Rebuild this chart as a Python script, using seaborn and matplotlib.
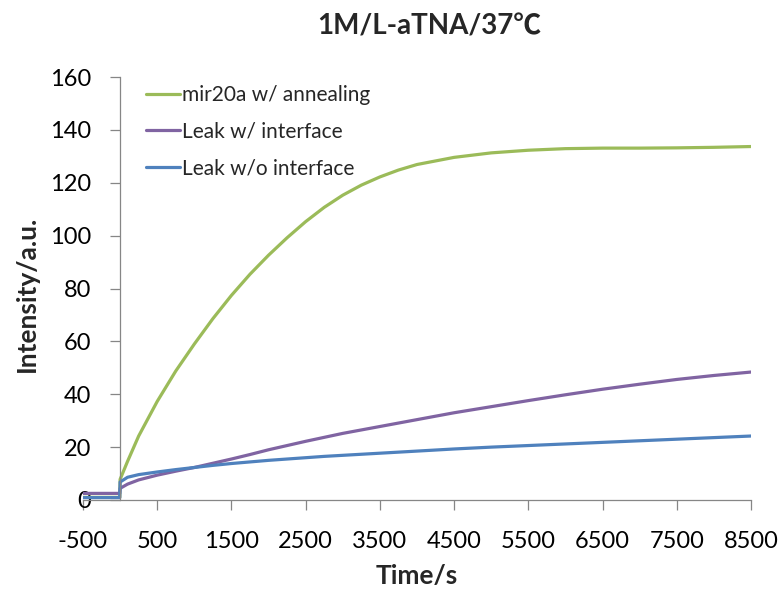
import matplotlib
matplotlib.use("Agg")
import matplotlib.pyplot as plt
import matplotlib.transforms as mtransforms
import seaborn as sns
import pandas as pd

# Fluorescence time course (seconds, arbitrary intensity units)
time_s = [-500, -5, 0, 100, 250, 500, 750, 1000, 1250, 1500, 1750, 2000,
          2250, 2500, 2750, 3000, 3250, 3500, 3750, 4000, 4500, 5000,
          5500, 6000, 6500, 7000, 7500, 8000, 8500]

mir20a_annealing = [1.0, 1.0, 7.8, 14.6, 24.2, 37.3, 48.8, 59.0, 68.6, 77.4,
                    85.4, 92.6, 99.2, 105.3, 110.7, 115.3, 119.1, 122.2,
                    124.8, 126.9, 129.6, 131.3, 132.3, 132.9, 133.1, 133.1,
                    133.2, 133.4, 133.7]

leak_with_interface = [2.5, 2.5, 4.4, 6.0, 7.6, 9.4, 10.9, 12.3, 13.9, 15.5,
                       17.2, 19.0, 20.6, 22.2, 23.7, 25.2, 26.5, 27.8, 29.1,
                       30.4, 33.0, 35.3, 37.6, 39.8, 41.9, 43.8, 45.6, 47.1,
                       48.4]

leak_without_interface = [0.9, 0.9, 6.8, 8.6, 9.6, 10.6, 11.5, 12.3, 13.1,
                          13.8, 14.4, 15.0, 15.5, 16.0, 16.5, 16.9, 17.3,
                          17.7, 18.1, 18.5, 19.3, 20.0, 20.6, 21.2, 21.8,
                          22.4, 23.0, 23.6, 24.2]

series_names = ["mir20a w/ annealing", "Leak w/ interface", "Leak w/o interface"]
series_colors = ["#9BBB59", "#8064A2", "#4F81BD"]
series_values = [mir20a_annealing, leak_with_interface, leak_without_interface]

x_ticks = [-500, 500, 1500, 2500, 3500, 4500, 5500, 6500, 7500, 8500]
y_ticks = [0, 20, 40, 60, 80, 100, 120, 140, 160]

sns.set_theme(style="white")
fonts = ["Lato", "Noto Sans CJK SC", "DejaVu Sans"]
plt.rcParams["font.family"] = fonts

fig = plt.figure(figsize=(7.83, 5.92), dpi=100)
ax = fig.add_axes([83 / 783, 1 - 500 / 592, (751 - 83) / 783, (500 - 77) / 592])

for name, color, values in zip(series_names, series_colors, series_values):
    df = pd.DataFrame({"time": time_s, "intensity": values})
    sns.lineplot(data=df, x="time", y="intensity", ax=ax, color=color,
                 linewidth=2.3, label=name, estimator=None, sort=False)

ax.set_xlim(-500, 8500)
ax.set_ylim(0, 160)
ax.set_xticks(x_ticks)
ax.set_yticks(y_ticks)
ax.set_xticklabels([str(t) for t in x_ticks])
ax.set_yticklabels([str(t) for t in y_ticks])

axis_grey = "#868686"
for side in ["top", "right"]:
    ax.spines[side].set_visible(False)
ax.spines["left"].set_position(("data", 0))
ax.spines["left"].set_color(axis_grey)
ax.spines["bottom"].set_color(axis_grey)
ax.spines["left"].set_linewidth(0.9)
ax.spines["bottom"].set_linewidth(0.9)

ax.tick_params(axis="both", direction="out", length=7, width=0.9,
               color=axis_grey, labelsize=17, labelcolor="black")
ax.tick_params(axis="x", pad=15, bottom=True)
ax.tick_params(axis="y", pad=8, left=True)
# y tick labels sit near the left edge of the plotting area, not by the x=0 spine
label_shift = mtransforms.ScaledTranslation(8 / 100, 0, fig.dpi_scale_trans)
for lbl in ax.yaxis.get_ticklabels():
    lbl.set_transform(ax.get_yaxis_transform() + label_shift)

ax.set_xlabel("")
ax.set_ylabel("")
fig.text(417 / 783, 1 - 576 / 592, "Time/s", ha="center", va="center",
         fontsize=19, fontweight="bold", family=fonts)
fig.text(27 / 783, 1 - 294 / 592, "Intensity/a.u.", ha="center", va="center",
         rotation=90, fontsize=19, fontweight="bold", family=fonts)
fig.text(429 / 783, 1 - 27 / 592, "1M/L-aTNA/37℃", ha="center", va="center",
         fontsize=20, fontweight="bold", family=fonts)

handles, labels = ax.get_legend_handles_labels()
ax.legend(handles, labels, loc="upper left", frameon=False,
          bbox_to_anchor=(146 / 783, 1 - 85 / 592),
          bbox_transform=fig.transFigure, fontsize=15, handlelength=1.63,
          handletextpad=0.1, labelspacing=0.8, borderpad=0, borderaxespad=0)

fig.savefig("out.png", dpi=100)
